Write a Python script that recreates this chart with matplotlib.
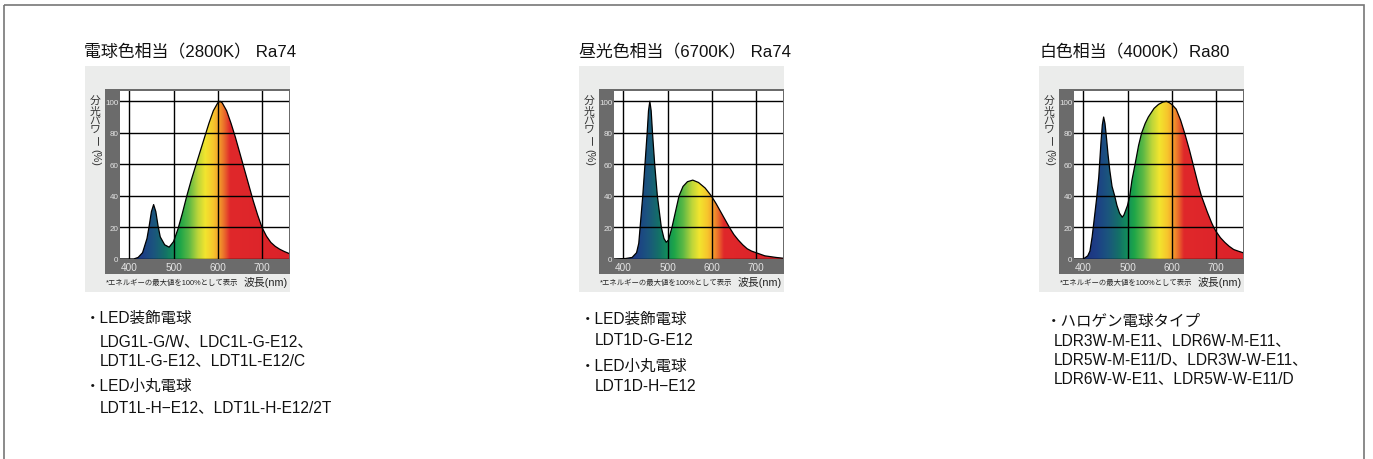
import numpy as np
import matplotlib
matplotlib.use("Agg")
import matplotlib.pyplot as plt
from matplotlib.colors import LinearSegmentedColormap
from matplotlib.patches import Rectangle, Polygon

plt.rcParams['font.family'] = ['Liberation Sans', 'Noto Sans CJK JP', 'DejaVu Sans']
CJK = ['Noto Sans CJK JP', 'DejaVu Sans']

# spectra (wavelength nm, relative power %)
wl_2800 = [379, 410, 420, 430, 440, 445, 450, 455, 460, 465, 470, 480, 490, 500, 510, 520, 530,
           540, 550, 560, 570, 580, 590, 600, 605, 610, 620, 630, 640, 650, 660, 670, 680, 690,
           700, 710, 720, 730, 740, 750, 761]
sp_2800 = [0, 0, 1, 4, 13, 21, 30, 34.5, 30, 21, 14, 9, 7.5, 11, 19, 29, 40,
           50, 59, 68, 77, 86, 94, 99, 100, 99, 94, 86, 77, 67, 57, 47, 37, 28,
           20, 14.5, 10.5, 8, 6.2, 4.8, 3.5]

wl_6700 = [379, 405, 420, 430, 435, 438, 444, 449, 454, 457, 460, 463, 466, 471, 477, 486, 492,
           497, 502, 510, 518, 526, 535, 545, 557, 570, 585, 599, 610, 620, 630, 640, 650, 660,
           670, 680, 690, 700, 720, 745, 761]
sp_6700 = [0, 0.3, 1, 4, 10, 20, 40, 60, 80, 94, 100, 94, 80, 60, 40, 20, 13,
           10.6, 12, 20, 30, 40, 46, 49, 50, 48.5, 45, 40, 35, 30, 25, 20, 15.5, 12,
           9, 6.5, 5, 4, 2, 1, 0.5]

wl_4000 = [379, 400, 405, 410, 415, 420, 425, 430, 435, 440, 443, 446, 449, 452, 456, 460, 465,
           471, 476, 482, 488, 492, 496, 500, 505, 510, 517, 525, 532, 540, 547, 560, 570, 580,
           588, 595, 600, 610, 620, 630, 640, 650, 660, 667, 680, 690, 695, 700, 710, 720, 730,
           740, 750, 761]
sp_4000 = [0, 0, 1, 2, 5, 14, 26, 38, 52, 74, 85, 90, 86, 78, 66, 56, 46,
           40, 34, 29, 26.5, 28, 31, 34, 40, 50, 60, 72, 80, 86, 90, 95.5, 98, 99.5,
           100, 99, 98, 95, 88, 79, 69, 58, 47, 40, 30, 23, 20, 17.5, 13.5, 10.5, 8,
           6, 5, 4]

titles = ["電球色相当（2800K） Ra74", "昼光色相当（6700K） Ra74", "白色相当（4000K）Ra80"]
notes = [
    ["・LED装飾電球", "LDG1L-G/W、LDC1L-G-E12、", "LDT1L-G-E12、LDT1L-E12/C",
     "・LED小丸電球", "LDT1L-H−E12、LDT1L-H-E12/2T"],
    ["・LED装飾電球", "LDT1D-G-E12", "・LED小丸電球", "LDT1D-H−E12"],
    ["・ハロゲン電球タイプ", "LDR3W-M-E11、LDR6W-M-E11、", "LDR5W-M-E11/D、LDR3W-W-E11、",
     "LDR6W-W-E11、LDR5W-W-E11/D"],
]
note_y = [[318, 342, 361, 386, 408], [319, 341, 366, 387], [321, 341, 360, 379]]
xticks = [400, 500, 600, 700]
yticks = [0, 20, 40, 60, 80, 100]
spectra = [(wl_2800, sp_2800), (wl_6700, sp_6700), (wl_4000, sp_4000)]

# spectral colour ramp used for the fill
stops = [(379, '#1e2a78'), (430, '#1d3f86'), (455, '#1b557e'), (480, '#147068'),
         (500, '#12905a'), (515, '#1ea548'), (535, '#5cb845'), (555, '#bcd53a'),
         (572, '#f2e52e'), (590, '#f7c72c'), (603, '#f4a02c'), (615, '#ea6b2b'),
         (628, '#e0282b'), (761, '#db2229')]
XL = (379, 761)
YL = (0, 106.5)
cmap = LinearSegmentedColormap.from_list(
    'spec', [((w - XL[0]) / (XL[1] - XL[0]), c) for w, c in stops])

W, H = 1373, 460
fig = plt.figure(figsize=(W / 100, H / 100), dpi=100)
bg = fig.add_axes([0, 0, 1, 1])
bg.set_xlim(0, W)
bg.set_ylim(H, 0)
bg.axis('off')
bg.add_patch(Rectangle((3.5, 5.5), 1360, 470, fill=False, edgecolor='#777777', lw=1.2))


def px_box(x0, y0, x1, y1):
    return [x0 / W, 1 - y1 / H, (x1 - x0) / W, (y1 - y0) / H]


frame_left = [105, 599, 1059]
title_x = [84, 579, 1040]
bullet_x = [85, 580, 1046]
indent_x = [100, 595, 1054]
ylab_y = [102, 111.5, 121, 130.5]

for i in range(3):
    fl = frame_left[i]
    wl, sp = spectra[i]
    bg.text(title_x[i], 52, titles[i], fontsize=12.2, va='center', ha='left', color='#111111')
    bg.add_patch(Rectangle((fl - 20, 67), 205, 226, facecolor='#ebeceb', edgecolor='none'))
    bg.add_patch(Rectangle((fl, 90), 185, 185, facecolor='#6b6b6b', edgecolor='none'))
    # vertical y-label
    for k, ch in enumerate(['分', '光', 'パ', 'ワ']):
        bg.text(fl - 10, ylab_y[k], ch, fontsize=7.8, ha='center', va='center',
                color='#333333', family=CJK)
    bg.text(fl - 10, 141, 'ー', fontsize=7.8, ha='center', va='center', rotation=-90,
            color='#333333', family=CJK)
    bg.text(fl - 10, 157, '(%)', fontsize=7.8, ha='center', va='center', rotation=-90,
            color='#333333')
    bg.text(fl + 1, 283, '*エネルギーの最大値を100%として表示', fontsize=5.3, ha='left', va='center',
            color='#222222')
    bg.text(fl + 183, 283, '波長(nm)', fontsize=7.8, ha='right', va='center', color='#222222')
    for k, line in enumerate(notes[i]):
        x = bullet_x[i] if line.startswith('・') else indent_x[i]
        bg.text(x, note_y[i][k], line, fontsize=11.2, ha='left', va='center', color='#111111')

    ax = fig.add_axes(px_box(fl + 15, 92, fl + 184, 260))
    ax.set_facecolor('white')
    grad = np.linspace(0, 1, 600)[np.newaxis, :]
    img = ax.imshow(grad, extent=(XL[0], XL[1], YL[0], YL[1]), aspect='auto', cmap=cmap,
                    origin='lower', zorder=1)
    verts = np.column_stack([np.r_[wl[0], wl, wl[-1]], np.r_[0, sp, 0]])
    poly = Polygon(verts, closed=True, facecolor='none', edgecolor='none')
    ax.add_patch(poly)
    img.set_clip_path(poly)
    ax.plot(wl, sp, color='black', lw=0.9, zorder=3)
    ax.set_xlim(*XL)
    ax.set_ylim(*YL)
    ax.set_xticks(xticks)
    ax.set_yticks(yticks)
    ax.grid(True, color='black', lw=1.0)
    ax.set_axisbelow(False)
    ax.tick_params(length=0, labelcolor='#e4e4e4')
    ax.tick_params(axis='x', labelsize=7.2, pad=2)
    ax.tick_params(axis='y', labelsize=5.8, pad=1)
    for s in ax.spines.values():
        s.set_visible(False)

fig.savefig('out.png', dpi=100)
